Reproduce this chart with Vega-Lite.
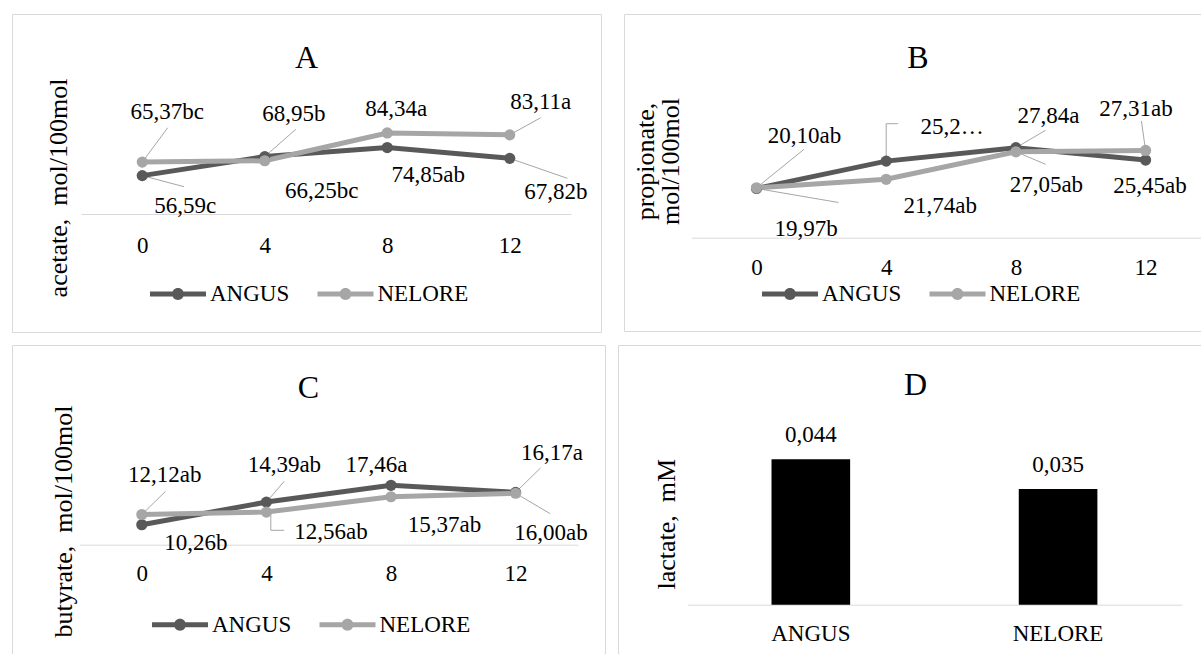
{
  "$schema": "https://vega.github.io/schema/vega-lite/v6.json",
  "background": "white",
  "padding": {"left": 11, "top": 13, "right": 0, "bottom": 0},
  "datasets": {
    "acetate": [
      {"week": 0, "breed": "ANGUS", "value": 56.59, "label": "56,59c"},
      {"week": 4, "breed": "ANGUS", "value": 68.95, "label": "68,95b"},
      {"week": 8, "breed": "ANGUS", "value": 74.85, "label": "74,85ab"},
      {"week": 12, "breed": "ANGUS", "value": 67.82, "label": "67,82b"},
      {"week": 0, "breed": "NELORE", "value": 65.37, "label": "65,37bc"},
      {"week": 4, "breed": "NELORE", "value": 66.25, "label": "66,25bc"},
      {"week": 8, "breed": "NELORE", "value": 84.34, "label": "84,34a"},
      {"week": 12, "breed": "NELORE", "value": 83.11, "label": "83,11a"}
    ],
    "propionate": [
      {"week": 0, "breed": "ANGUS", "value": 19.97, "label": "19,97b"},
      {"week": 4, "breed": "ANGUS", "value": 25.25, "label": "25,2…"},
      {"week": 8, "breed": "ANGUS", "value": 27.84, "label": "27,84a"},
      {"week": 12, "breed": "ANGUS", "value": 25.45, "label": "25,45ab"},
      {"week": 0, "breed": "NELORE", "value": 20.10, "label": "20,10ab"},
      {"week": 4, "breed": "NELORE", "value": 21.74, "label": "21,74ab"},
      {"week": 8, "breed": "NELORE", "value": 27.05, "label": "27,05ab"},
      {"week": 12, "breed": "NELORE", "value": 27.31, "label": "27,31ab"}
    ],
    "butyrate": [
      {"week": 0, "breed": "ANGUS", "value": 10.26, "label": "10,26b"},
      {"week": 4, "breed": "ANGUS", "value": 14.39, "label": "14,39ab"},
      {"week": 8, "breed": "ANGUS", "value": 17.46, "label": "17,46a"},
      {"week": 12, "breed": "ANGUS", "value": 16.17, "label": "16,17a"},
      {"week": 0, "breed": "NELORE", "value": 12.12, "label": "12,12ab"},
      {"week": 4, "breed": "NELORE", "value": 12.56, "label": "12,56ab"},
      {"week": 8, "breed": "NELORE", "value": 15.37, "label": "15,37ab"},
      {"week": 12, "breed": "NELORE", "value": 16.00, "label": "16,00ab"}
    ],
    "lactate": [
      {"breed": "ANGUS", "value": 0.044, "label": "0,044"},
      {"breed": "NELORE", "value": 0.035, "label": "0,035"}
    ]
  },
  "bounds": "full",
  "spacing": 11,
  "resolve": {"scale": {"color": "independent"}, "legend": {"color": "independent"}},
  "vconcat": [
    {
      "bounds": "flush",
      "spacing": 23,
      "resolve": {"scale": {"color": "independent"}, "legend": {"color": "independent"}},
      "hconcat": [
        {
          "width": 589,
          "height": 318,
          "title": {"text": "A", "offset": -61},
          "data": {"name": "acetate"},
          "encoding": {
            "x": {"field": "week", "type": "ordinal", "scale": {"type": "point", "range": [69, 559], "padding": 0.5}, "axis": {"title": null, "offset": -118, "labelPadding": 38}},
            "y": {"field": "value", "type": "quantitative", "scale": {"domain": [31.6, 100], "range": [200, 94.9], "zero": false, "nice": false}, "axis": {"title": "acetate,\u00a0 mol/100mol", "titleX": 54, "titleY": 173.5}}
          },
          "layer": [
            {"transform": [{"filter": "datum.label == '65,37bc'"}], "mark": {"type": "rule", "x2Offset": 25.5, "y2Offset": -34.4}, "encoding": {"x2": {"field": "week"}, "y2": {"field": "value"}}},
            {"transform": [{"filter": "datum.label == '56,59c'"}], "mark": {"type": "rule", "x2Offset": 41.75, "y2Offset": 11.1}, "encoding": {"x2": {"field": "week"}, "y2": {"field": "value"}}},
            {"transform": [{"filter": "datum.label == '68,95b'"}], "mark": {"type": "rule", "x2Offset": 31, "y2Offset": -27.3}, "encoding": {"x2": {"field": "week"}, "y2": {"field": "value"}}},
            {"transform": [{"filter": "datum.label == '83,11a'"}], "mark": {"type": "rule", "x2Offset": 30.9, "y2Offset": -17.1}, "encoding": {"x2": {"field": "week"}, "y2": {"field": "value"}}},
            {"transform": [{"filter": "datum.label == '67,82b'"}], "mark": {"type": "rule", "x2Offset": 57.6, "y2Offset": 20}, "encoding": {"x2": {"field": "week"}, "y2": {"field": "value"}}},
            {"transform": [{"filter": "datum.breed == 'ANGUS'"}], "mark": {"type": "line", "color": "#595959"}, "encoding": {}},
            {"transform": [{"filter": "datum.breed == 'NELORE'"}], "mark": {"type": "line", "color": "#a6a6a6"}, "encoding": {}},
            {"mark": {"type": "point"}, "encoding": {"color": {"field": "breed", "type": "nominal", "scale": {"domain": ["ANGUS", "NELORE"], "range": ["#595959", "#a6a6a6"]}, "legend": {"legendX": 138, "legendY": 252}}}},
            {"transform": [{"filter": "datum.label == '65,37bc'"}], "mark": {"type": "text", "dx": 25, "dy": -43}, "encoding": {"text": {"field": "label"}}},
            {"transform": [{"filter": "datum.label == '56,59c'"}], "mark": {"type": "text", "dx": 43, "dy": 37}, "encoding": {"text": {"field": "label"}}},
            {"transform": [{"filter": "datum.label == '68,95b'"}], "mark": {"type": "text", "dx": 29, "dy": -36}, "encoding": {"text": {"field": "label"}}},
            {"transform": [{"filter": "datum.label == '66,25bc'"}], "mark": {"type": "text", "dx": 57, "dy": 37}, "encoding": {"text": {"field": "label"}}},
            {"transform": [{"filter": "datum.label == '84,34a'"}], "mark": {"type": "text", "dx": 9, "dy": -17}, "encoding": {"text": {"field": "label"}}},
            {"transform": [{"filter": "datum.label == '74,85ab'"}], "mark": {"type": "text", "dx": 41, "dy": 34}, "encoding": {"text": {"field": "label"}}},
            {"transform": [{"filter": "datum.label == '83,11a'"}], "mark": {"type": "text", "dx": 31, "dy": -25.5}, "encoding": {"text": {"field": "label"}}},
            {"transform": [{"filter": "datum.label == '67,82b'"}], "mark": {"type": "text", "dx": 46, "dy": 41}, "encoding": {"text": {"field": "label"}}}
          ]
        },
        {
          "width": 579,
          "height": 317,
          "title": {"text": "B", "dx": 4.5, "offset": -61},
          "data": {"name": "propionate"},
          "encoding": {
            "x": {"field": "week", "type": "ordinal", "scale": {"type": "point", "range": [67.65, 586.45], "padding": 0.5}, "axis": {"title": null, "offset": -93.3, "labelPadding": 36.6}},
            "y": {"field": "value", "type": "quantitative", "scale": {"domain": [10.47, 30], "range": [223.7, 122.5], "zero": false, "nice": false}, "axis": {"title": ["propionate,", "mol/100mol"], "titleX": 29, "titleY": 147, "titleLineHeight": 25}}
          },
          "layer": [
            {"transform": [{"filter": "datum.label == '20,10ab'"}], "mark": {"type": "rule", "x2Offset": 47.5, "y2Offset": -38.5}, "encoding": {"x2": {"field": "week"}, "y2": {"field": "value"}}},
            {"transform": [{"filter": "datum.label == '19,97b'"}], "mark": {"type": "rule", "x2Offset": 82, "y2Offset": 14}, "encoding": {"x2": {"field": "week"}, "y2": {"field": "value"}}},
            {"transform": [{"filter": "datum.label == '25,2…'"}], "mark": {"type": "rule", "x2Offset": 0, "y2Offset": -37.4}, "encoding": {"x2": {"field": "week"}, "y2": {"field": "value"}}},
            {"transform": [{"filter": "datum.label == '25,2…'"}], "mark": {"type": "rule", "yOffset": -37.4, "x2Offset": 11.8, "y2Offset": -37.4}, "encoding": {"x2": {"field": "week"}, "y2": {"field": "value"}}},
            {"transform": [{"filter": "datum.label == '27,84a'"}], "mark": {"type": "rule", "x2Offset": 29.7, "y2Offset": -17.4}, "encoding": {"x2": {"field": "week"}, "y2": {"field": "value"}}},
            {"transform": [{"filter": "datum.label == '27,05ab'"}], "mark": {"type": "rule", "x2Offset": 29.7, "y2Offset": 12.5}, "encoding": {"x2": {"field": "week"}, "y2": {"field": "value"}}},
            {"transform": [{"filter": "datum.label == '27,31ab'"}], "mark": {"type": "rule", "x2Offset": -4.2, "y2Offset": -29.5}, "encoding": {"x2": {"field": "week"}, "y2": {"field": "value"}}},
            {"transform": [{"filter": "datum.breed == 'ANGUS'"}], "mark": {"type": "line", "color": "#595959"}, "encoding": {}},
            {"transform": [{"filter": "datum.breed == 'NELORE'"}], "mark": {"type": "line", "color": "#a6a6a6"}, "encoding": {}},
            {"mark": {"type": "point"}, "encoding": {"color": {"field": "breed", "type": "nominal", "scale": {"domain": ["ANGUS", "NELORE"], "range": ["#595959", "#a6a6a6"]}, "legend": {"legendX": 138, "legendY": 252}}}},
            {"transform": [{"filter": "datum.label == '20,10ab'"}], "mark": {"type": "text", "dx": 48, "dy": -45}, "encoding": {"text": {"field": "label"}}},
            {"transform": [{"filter": "datum.label == '19,97b'"}], "mark": {"type": "text", "dx": 49.5, "dy": 47.5}, "encoding": {"text": {"field": "label"}}},
            {"transform": [{"filter": "datum.label == '25,2…'"}], "mark": {"type": "text", "dx": 66, "dy": -27}, "encoding": {"text": {"field": "label"}}},
            {"transform": [{"filter": "datum.label == '21,74ab'"}], "mark": {"type": "text", "dx": 54, "dy": 33.4}, "encoding": {"text": {"field": "label"}}},
            {"transform": [{"filter": "datum.label == '27,84a'"}], "mark": {"type": "text", "dx": 32.6, "dy": -25}, "encoding": {"text": {"field": "label"}}},
            {"transform": [{"filter": "datum.label == '27,05ab'"}], "mark": {"type": "text", "dx": 30.5, "dy": 40}, "encoding": {"text": {"field": "label"}}},
            {"transform": [{"filter": "datum.label == '27,31ab'"}], "mark": {"type": "text", "dx": -9.6, "dy": -34.5}, "encoding": {"text": {"field": "label"}}},
            {"transform": [{"filter": "datum.label == '25,45ab'"}], "mark": {"type": "text", "dx": 4.4, "dy": 32.6}, "encoding": {"text": {"field": "label"}}}
          ]
        }
      ]
    },
    {
      "bounds": "flush",
      "spacing": 13,
      "resolve": {"scale": {"color": "independent"}, "legend": {"color": "independent"}},
      "hconcat": [
        {
          "width": 593,
          "height": 312,
          "title": {"text": "C", "offset": -60},
          "data": {"name": "butyrate"},
          "encoding": {
            "x": {"field": "week", "type": "ordinal", "scale": {"type": "point", "range": [67.5, 565.9], "padding": 0.5}, "axis": {"title": null, "offset": -112.3, "labelPadding": 35.6}},
            "y": {"field": "value", "type": "quantitative", "scale": {"domain": [6.6, 20], "range": [199.7, 126.4], "zero": false, "nice": false}, "axis": {"title": "butyrate,\u00a0 mol/100mol", "titleX": 59, "titleY": 176}}
          },
          "layer": [
            {"transform": [{"filter": "datum.label == '12,12ab'"}], "mark": {"type": "rule", "x2Offset": 23.8, "y2Offset": -23.2}, "encoding": {"x2": {"field": "week"}, "y2": {"field": "value"}}},
            {"transform": [{"filter": "datum.label == '14,39ab'"}], "mark": {"type": "rule", "x2Offset": 17.8, "y2Offset": -20.8}, "encoding": {"x2": {"field": "week"}, "y2": {"field": "value"}}},
            {"transform": [{"filter": "datum.label == '12,56ab'"}], "mark": {"type": "rule", "xOffset": 4.4, "x2Offset": 4.4, "y2Offset": 18.2}, "encoding": {"x2": {"field": "week"}, "y2": {"field": "value"}}},
            {"transform": [{"filter": "datum.label == '12,56ab'"}], "mark": {"type": "rule", "xOffset": 4.4, "yOffset": 18.2, "x2Offset": 17.8, "y2Offset": 18.2}, "encoding": {"x2": {"field": "week"}, "y2": {"field": "value"}}},
            {"transform": [{"filter": "datum.label == '16,17a'"}], "mark": {"type": "rule", "x2Offset": 25, "y2Offset": -24.4}, "encoding": {"x2": {"field": "week"}, "y2": {"field": "value"}}},
            {"transform": [{"filter": "datum.label == '16,00ab'"}], "mark": {"type": "rule", "x2Offset": 34.6, "y2Offset": 20.4}, "encoding": {"x2": {"field": "week"}, "y2": {"field": "value"}}},
            {"transform": [{"filter": "datum.breed == 'ANGUS'"}], "mark": {"type": "line", "color": "#595959"}, "encoding": {}},
            {"transform": [{"filter": "datum.breed == 'NELORE'"}], "mark": {"type": "line", "color": "#a6a6a6"}, "encoding": {}},
            {"mark": {"type": "point"}, "encoding": {"color": {"field": "breed", "type": "nominal", "scale": {"domain": ["ANGUS", "NELORE"], "range": ["#595959", "#a6a6a6"]}, "legend": {"legendX": 140, "legendY": 251.7}}}},
            {"transform": [{"filter": "datum.label == '12,12ab'"}], "mark": {"type": "text", "dx": 23, "dy": -32.5}, "encoding": {"text": {"field": "label"}}},
            {"transform": [{"filter": "datum.label == '10,26b'"}], "mark": {"type": "text", "dx": 54, "dy": 25.6}, "encoding": {"text": {"field": "label"}}},
            {"transform": [{"filter": "datum.label == '14,39ab'"}], "mark": {"type": "text", "dx": 18, "dy": -30}, "encoding": {"text": {"field": "label"}}},
            {"transform": [{"filter": "datum.label == '12,56ab'"}], "mark": {"type": "text", "dx": 64.6, "dy": 26.6}, "encoding": {"text": {"field": "label"}}},
            {"transform": [{"filter": "datum.label == '17,46a'"}], "mark": {"type": "text", "dx": -14.4, "dy": -13.3}, "encoding": {"text": {"field": "label"}}},
            {"transform": [{"filter": "datum.label == '15,37ab'"}], "mark": {"type": "text", "dx": 53.5, "dy": 35.3}, "encoding": {"text": {"field": "label"}}},
            {"transform": [{"filter": "datum.label == '16,17a'"}], "mark": {"type": "text", "dx": 36.4, "dy": -32}, "encoding": {"text": {"field": "label"}}},
            {"transform": [{"filter": "datum.label == '16,00ab'"}], "mark": {"type": "text", "dx": 35.4, "dy": 47}, "encoding": {"text": {"field": "label"}}}
          ]
        },
        {
          "width": 585,
          "height": 312,
          "title": {"text": "D", "dx": 5, "offset": -57},
          "data": {"name": "lactate"},
          "encoding": {
            "x": {"field": "breed", "type": "nominal", "scale": {"type": "band", "range": [69.2, 563.7], "paddingInner": 0, "paddingOuter": 0}, "axis": {"title": null, "offset": -52.3, "labelPadding": 35.6}},
            "y": {"field": "value", "type": "quantitative", "scale": {"domain": [0, 0.05], "range": [259.7, 94.5], "nice": false}, "axis": {"title": "lactate,\u00a0 mM", "titleX": 56, "titleY": 178.7}}
          },
          "layer": [
            {"mark": {"type": "bar", "color": "#000", "width": {"band": 0.318}}},
            {"mark": {"type": "text", "dy": -17}, "encoding": {"text": {"field": "label"}}}
          ]
        }
      ]
    }
  ],
  "config": {
    "font": "Liberation Serif",
    "view": {"stroke": "#d9d9d9", "strokeWidth": 1},
    "title": {"font": "Liberation Serif", "fontSize": 32, "fontWeight": "normal", "color": "#000", "baseline": "alphabetic", "anchor": "middle", "frame": "group"},
    "axis": {"labelFont": "Liberation Serif", "labelFontSize": 23, "labelColor": "#000", "titleFont": "Liberation Serif", "titleFontSize": 26, "titleFontWeight": "normal", "titleColor": "#000", "grid": false, "ticks": false, "tickSize": 0, "domainColor": "#d9d9d9", "domainWidth": 1},
    "axisX": {"labelAngle": 0, "labelBaseline": "alphabetic"},
    "axisY": {"domain": false, "labels": false, "titleAngle": 270, "titleAlign": "center", "titleBaseline": "alphabetic"},
    "legend": {"orient": "none", "direction": "horizontal", "title": null, "symbolType": "M-1,-0.09H1V0.09H-1Z M0.214,0A0.214,0.214,0,1,1,-0.214,0A0.214,0.214,0,1,1,0.214,0Z", "symbolSize": 3136, "symbolStrokeWidth": 0, "labelFont": "Liberation Serif", "labelFontSize": 23, "labelColor": "#000", "labelOffset": 4, "columnPadding": 27.5, "padding": 0},
    "text": {"font": "Liberation Serif", "fontSize": 23, "color": "#000", "baseline": "alphabetic", "align": "center"},
    "rule": {"color": "#a6a6a6", "strokeWidth": 1},
    "line": {"strokeWidth": 5},
    "point": {"filled": true, "size": 125, "opacity": 1}
  }
}
